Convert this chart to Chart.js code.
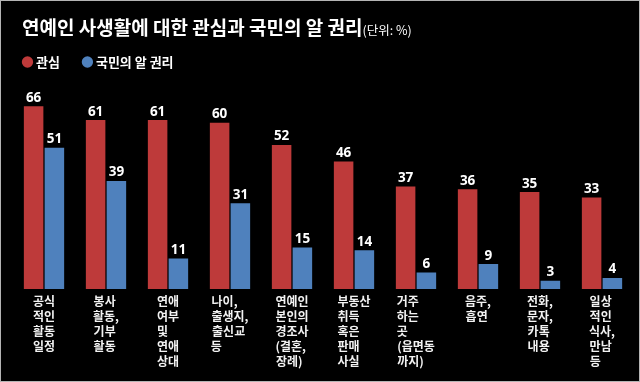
<!DOCTYPE html>
<html><head><meta charset="utf-8">
<script src="https://cdn.jsdelivr.net/npm/chart.js@4"></script>
<style>
html,body{margin:0;padding:0;background:#000;}
#wrap{position:relative;width:640px;height:382px;background:#000;overflow:hidden;}
#chart{position:absolute;left:0;top:0;}
#title{position:absolute;left:22px;top:17px;color:#fff;font-family:"Noto Sans CJK KR";font-weight:700;font-size:19px;line-height:20px;white-space:nowrap;}
#title span{font-size:12.5px;font-weight:400;}
#frame{position:absolute;left:0;top:0;width:640px;height:382px;box-sizing:border-box;border:1px solid #b4b4b4;pointer-events:none;}
</style></head>
<body>
<div id="wrap">
<canvas id="chart" width="640" height="382"></canvas>
<div id="title">연예인 사생활에 대한 관심과 국민의 알 권리<span>(단위: %)</span></div>
<div id="frame"></div>
</div>
<script>
const categories = [
  ["공식","적인","활동","일정"],
  ["봉사","활동,","기부","활동"],
  ["연애","여부","및","연애","상대"],
  ["나이,","출생지,","출신교","등"],
  ["연예인","본인의","경조사","(결혼,","장례)"],
  ["부동산","취득","혹은","판매","사실"],
  ["거주","하는","곳","(읍면동","까지)"],
  ["음주,","흡연"],
  ["전화,","문자,","카톡","내용"],
  ["일상","적인","식사,","만남","등"]
];
const seriesNames = ["관심", "국민의 알 권리"];
const interestValues = [66, 61, 61, 60, 52, 46, 37, 36, 35, 33];
const rightToKnowValues = [51, 39, 11, 31, 15, 14, 6, 9, 3, 4];

const RED = '#be3a3a';
const BLUE = '#4f81bd';
const FAMILY = '"Noto Sans CJK KR", "Noto Sans", sans-serif';
Chart.defaults.font.family = FAMILY;

const tickFont = '700 12px ' + FAMILY;
const measureCtx = document.createElement('canvas').getContext('2d');
function padLines(lines) {
  measureCtx.font = tickFont;
  const widths = lines.map(l => measureCtx.measureText(l).width);
  const maxW = Math.max.apply(null, widths);
  const sp = measureCtx.measureText(' ').width;
  return lines.map((l, k) => l + ' '.repeat(Math.max(0, Math.round((maxW - widths[k]) / sp))));
}

const valueLabels = {
  id: 'valueLabels',
  afterDatasetsDraw(chart) {
    const ctx = chart.ctx;
    ctx.save();
    ctx.font = '700 13.5px "Noto Sans", sans-serif';
    ctx.fillStyle = '#ffffff';
    ctx.textAlign = 'center';
    ctx.textBaseline = 'alphabetic';
    chart.data.datasets.forEach((ds, i) => {
      const meta = chart.getDatasetMeta(i);
      meta.data.forEach((bar, j) => {
        ctx.fillText(String(ds.data[j]), bar.x, bar.y - 4.5);
      });
    });
    ctx.restore();
  }
};

new Chart(document.getElementById('chart'), {
  type: 'bar',
  data: {
    labels: categories,
    datasets: [
      { label: seriesNames[0], data: interestValues, backgroundColor: RED, borderWidth: 0, categoryPercentage: 0.67, barPercentage: 0.94 },
      { label: seriesNames[1], data: rightToKnowValues, backgroundColor: BLUE, borderWidth: 0, categoryPercentage: 0.67, barPercentage: 0.94 }
    ]
  },
  options: {
    responsive: false,
    animation: false,
    layout: { padding: { top: 30, left: 0, right: 7, bottom: 9 } },
    plugins: {
      legend: {
        position: 'top', align: 'start',
        labels: { usePointStyle: true, pointStyle: 'circle', boxWidth: 4, boxHeight: 8, padding: 25.5, color: '#ffffff', font: { size: 13, weight: 'bold' } }
      },
      tooltip: { enabled: false },
      title: { display: false }
    },
    scales: {
      x: {
        grid: { display: false, drawTicks: false },
        border: { display: false },
        ticks: {
          color: '#f2f2f2', padding: 4.5, autoSkip: false, maxRotation: 0, minRotation: 0,
          font: { size: 12, weight: 'bold', lineHeight: 1.25 },
          callback: (v, i) => padLines(categories[i])
        }
      },
      y: {
        min: 0, max: 76,
        grid: { display: false, drawTicks: false },
        border: { display: false },
        ticks: { display: false },
        afterFit(scale) { scale.width = 13; }
      }
    }
  },
  plugins: [valueLabels]
});
</script>
</body></html>
